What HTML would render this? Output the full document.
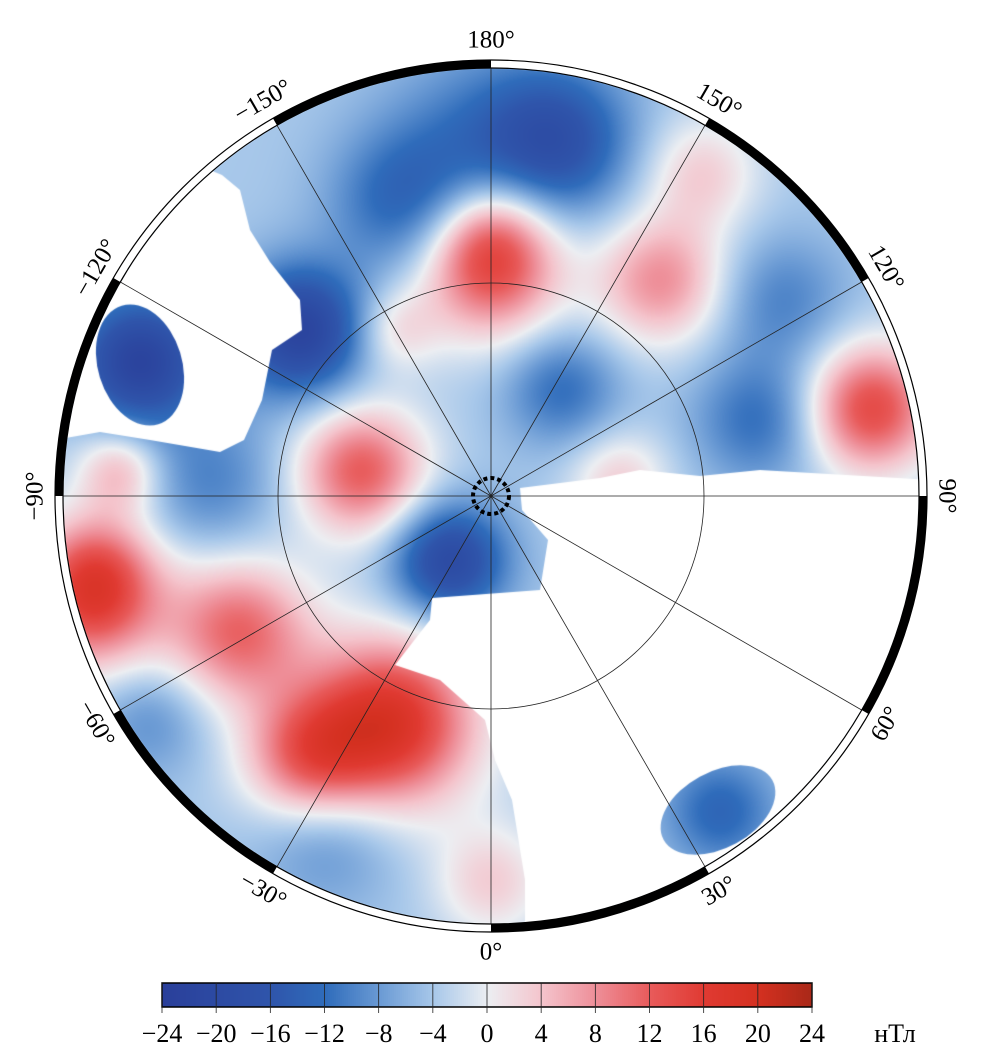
<!DOCTYPE html>
<html><head><meta charset="utf-8">
<style>
html,body{margin:0;padding:0;background:#fff;}
#wrap{position:relative;width:1008px;height:1063px;overflow:hidden;}
canvas,svg{position:absolute;left:0;top:0;}
text{font-family:"Liberation Serif",serif;}
</style></head>
<body>
<div id="wrap">
<canvas id="map" width="1008" height="1063"></canvas>
<svg id="ov" width="1008" height="1063"></svg>
</div>
<script>
// ---- data ----
const bumpLon   = [180,180,-163,-131,-111,-101,-75,-62,-24,-26,-57,-33,142,124,103,106,97,147,36,169,147,0,-93,-94,180,-35,-80,-150];
const bumpRad   = [0.81,0.53,0.72,0.59,0.88,0.31,0.97,0.67,0.58,0.87,0.95,0.18,0.64,0.82,0.91,0.65,0.30,0.30,0.91,0.85,0.90,0.90,0.66,0.87,0.62,0.75,0.93,0.45];
const bumpVal   = [-8,16,-8,-18,-18,16,16,15,22,-6,-5,-16,12,-6,18,-8,7,-8,-9,-10,7,7,-6,9,8,14,8,6];
const bumpWidth = [70,50,50,45,45,45,50,50,60,50,40,40,45,45,45,45,35,40,40,50,40,40,50,30,40,45,40,30];
const baseValue = -4;
const cbTicks = [-24,-20,-16,-12,-8,-4,0,4,8,12,16,20,24];
const lonLabels = [180,150,120,90,60,30,0,-30,-60,-90,-120,-150];
const cmapVals = [-24,-16,-12,-8,-4,0,4,8,12,16,20,24];
const cmapCols = ["#2a3f9a","#2f55ab","#2f6cbb","#6a9ad4","#a8c8ea","#eceef2","#f4c4cc","#ee8e98","#e85a5a","#e03a32","#d43020","#a82818"];

const cx=491, cy=496, R=428;
function hex(c){return [parseInt(c.slice(1,3),16),parseInt(c.slice(3,5),16),parseInt(c.slice(5,7),16)];}
const cmapRGB = cmapCols.map(hex);
function cmap(v){
  if(v<=cmapVals[0]) return cmapRGB[0];
  for(let i=1;i<cmapVals.length;i++){
    if(v<=cmapVals[i]){const t=(v-cmapVals[i-1])/(cmapVals[i]-cmapVals[i-1]);
      const a=cmapRGB[i-1],b=cmapRGB[i];return [a[0]+(b[0]-a[0])*t,a[1]+(b[1]-a[1])*t,a[2]+(b[2]-a[2])*t];}
  }
  return cmapRGB[cmapRGB.length-1];
}
function polar(lon,rn){const a=lon*Math.PI/180;return [cx+rn*R*Math.sin(a), cy+rn*R*Math.cos(a)];}

const off=document.createElement('canvas');off.width=1008;off.height=1063;
const octx=off.getContext('2d');
const img=octx.createImageData(1008,1063);
const bx=[],by=[];
for(let i=0;i<bumpLon.length;i++){const p=polar(bumpLon[i],bumpRad[i]);bx.push(p[0]);by.push(p[1]);}
for(let y=cy-R-2;y<=cy+R+2;y++){for(let x=cx-R-2;x<=cx+R+2;x++){
  let v=baseValue;
  for(let i=0;i<bx.length;i++){const dx=x-bx[i],dy=y-by[i];const s=bumpWidth[i];v+=bumpVal[i]*Math.exp(-(dx*dx+dy*dy)/(2*s*s));}
  const c=cmap(v);const k=(y*1008+x)*4;img.data[k]=c[0];img.data[k+1]=c[1];img.data[k+2]=c[2];img.data[k+3]=255;
}}
octx.putImageData(img,0,0);

const ctx=document.getElementById('map').getContext('2d');
ctx.save();ctx.beginPath();ctx.arc(cx,cy,R,0,Math.PI*2);ctx.clip();
ctx.drawImage(off,0,0);
ctx.fillStyle="#fff";
const masks=[
 [[520,488],[600,478],[640,470],[700,476],[760,470],[930,480],[935,700],[850,850],[720,930],[525,935],[525,880],[512,800],[495,760],[485,720],[440,680],[395,665],[430,620],[432,598],[540,590],[548,540],[522,510]],
 [[222,175],[240,190],[250,230],[270,262],[300,300],[302,330],[272,350],[262,400],[244,440],[220,452],[150,440],[100,432],[55,440],[55,300],[110,280],[205,168]]
];
masks.forEach(m=>{ctx.beginPath();m.forEach((p,i)=>i?ctx.lineTo(p[0],p[1]):ctx.moveTo(p[0],p[1]));ctx.closePath();ctx.fill();});
[[140,365,42,62,-0.3],[718,810,62,38,-0.5]].forEach(e=>{
  ctx.save();ctx.beginPath();ctx.ellipse(e[0],e[1],e[2],e[3],e[4],0,Math.PI*2);ctx.clip();ctx.drawImage(off,0,0);ctx.restore();
});
ctx.restore();

const NS="http://www.w3.org/2000/svg";const svg=document.getElementById('ov');
function mk(tag,attrs,parent){const e=document.createElementNS(NS,tag);for(const k in attrs)e.setAttribute(k,attrs[k]);(parent||svg).appendChild(e);return e;}
let g=mk('circle',{cx:cx,cy:cy,r:213,fill:'none',stroke:'#222','stroke-width':0.8});


for(let lon=-150;lon<=180;lon+=30){const p=polar(lon,1);
  const l=mk('line',{x1:cx,y1:cy,x2:p[0],y2:p[1],stroke:'#222','stroke-width':0.8});
  
  }
const pole=mk('circle',{cx:cx,cy:cy,r:18,fill:'none',stroke:'#000','stroke-width':4,'stroke-dasharray':'4 3'});


const Ro=436;
const fo=mk('circle',{cx:cx,cy:cy,r:Ro,fill:'none',stroke:'#000','stroke-width':1.2});


const fi=mk('circle',{cx:cx,cy:cy,r:R,fill:'none',stroke:'#000','stroke-width':1.2});


[[120,150],[60,90],[0,30],[-60,-30],[-120,-90],[-180,-150]].forEach(s=>{
  const rm=(R+Ro)/2;const a=polar(s[0],rm/R),b=polar(s[1],rm/R);
  const p=mk('path',{d:`M${a[0]},${a[1]} A${rm},${rm} 0 0 0 ${b[0]},${b[1]}`,fill:'none',stroke:'#000','stroke-width':8});
  
  
});
lonLabels.forEach(lon=>{
  const p=polar(lon,456/R);const rot=Math.abs(lon)<90?-lon:180-lon;
  const t=mk('text',{x:p[0],y:p[1],'font-size':25,'text-anchor':'middle','dominant-baseline':'central',transform:`rotate(${rot} ${p[0]} ${p[1]})`});
  t.textContent=(lon<0?'\u2212':'')+Math.abs(lon)+'\u00b0';
  
  
});
const cbx0=162,cbx1=812,cby=983,cbh=24;
const cbS=v=>cbx0+(v-cbTicks[0])/(cbTicks[cbTicks.length-1]-cbTicks[0])*(cbx1-cbx0);
const cb=mk('g',{});
for(let x=cbx0;x<cbx1;x+=2){const v=cbTicks[0]+(x-cbx0)/(cbx1-cbx0)*48;const c=cmap(v);
  mk('rect',{x:x,y:cby,width:2.5,height:cbh,fill:`rgb(${c.map(Math.round).join(',')})`},cb);}
mk('rect',{x:cbx0,y:cby,width:cbx1-cbx0,height:cbh,fill:'none',stroke:'#000','stroke-width':1.5},cb);
cbTicks.forEach(v=>{const x=cbS(v);
  mk('line',{x1:x,y1:cby,x2:x,y2:cby+cbh+6,stroke:'#222','stroke-width':0.8},cb);
  const t=mk('text',{x:x,y:1042,'font-size':26,'text-anchor':'middle'},cb);
  t.textContent=(v<0?'\u2212':'')+Math.abs(v);
  
  
});
const u=mk('text',{x:895,y:1042,'font-size':26,'text-anchor':'middle'});u.textContent='нТл';


</script>
</body></html>
